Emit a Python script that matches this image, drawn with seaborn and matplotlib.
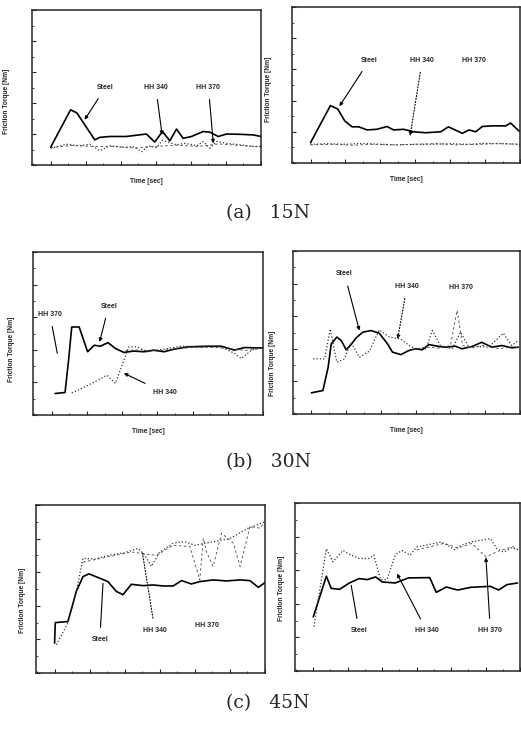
import matplotlib
matplotlib.use("Agg")
import matplotlib.pyplot as plt
import seaborn as sns
from matplotlib.ticker import MultipleLocator

sns.set_style("ticks")
plt.rcParams["font.family"] = ["Liberation Sans", "DejaVu Sans"]

# ---- data (time in tick units, torque in y-tick units) ----
# (a) 15N, left
a1_steel_t = [0, 0.57, 0.75, 1.26, 1.4, 1.69, 2.16, 2.73, 2.97, 3.19, 3.4, 3.59, 3.78, 4.02, 4.35, 4.54, 4.78, 5.02, 5.4, 5.78, 6.0]
a1_steel_y = [0.57, 1.78, 1.68, 0.81, 0.89, 0.92, 0.92, 1.0, 0.74, 1.08, 0.78, 1.16, 0.86, 0.92, 1.08, 1.06, 0.92, 1.0, 0.99, 0.97, 0.92]
a1_hh340_t = [0, 0.45, 0.83, 1.12, 1.4, 1.69, 2.07, 2.36, 2.6, 2.78, 3.02, 3.19, 3.59, 3.83, 4.17, 4.35, 4.54, 4.73, 5.02, 5.4, 5.78, 6.0]
a1_hh340_y = [0.54, 0.67, 0.62, 0.67, 0.46, 0.62, 0.57, 0.59, 0.43, 0.62, 0.56, 0.8, 0.65, 0.7, 0.62, 0.76, 0.54, 0.76, 0.7, 0.65, 0.6, 0.6]
a1_hh370_t = [0, 0.6, 1.2, 1.8, 2.4, 3.0, 3.6, 4.2, 4.8, 5.4, 6.0]
a1_hh370_y = [0.56, 0.63, 0.6, 0.6, 0.55, 0.6, 0.64, 0.6, 0.68, 0.63, 0.58]

# (a) 15N, right
a2_steel_t = [0, 0.57, 0.78, 0.98, 1.19, 1.38, 1.62, 1.9, 2.19, 2.38, 2.67, 2.95, 3.3, 3.73, 3.95, 4.1, 4.35, 4.54, 4.73, 4.92, 5.2, 5.59, 5.73, 5.92, 6.0]
a2_steel_y = [0.65, 1.84, 1.73, 1.35, 1.16, 1.16, 1.06, 1.08, 1.17, 1.06, 1.08, 1.0, 0.97, 1.0, 1.16, 1.08, 0.95, 1.06, 1.0, 1.17, 1.19, 1.19, 1.28, 1.08, 1.0]
a2_hh340_t = [0, 0.5, 1.0, 1.5, 2.0, 2.5, 3.0, 3.5, 4.0, 4.5, 5.0, 5.5, 6.0]
a2_hh340_y = [0.6, 0.62, 0.6, 0.63, 0.6, 0.58, 0.6, 0.6, 0.62, 0.6, 0.63, 0.62, 0.6]
a2_hh370_t = [0, 0.6, 1.2, 1.8, 2.4, 3.0, 3.6, 4.2, 4.8, 5.4, 6.0]
a2_hh370_y = [0.58, 0.6, 0.57, 0.6, 0.58, 0.6, 0.62, 0.58, 0.6, 0.62, 0.6]

# (b) 30N, left
b1_steel_t = [0.1, 0.38, 0.48, 0.57, 0.78, 1.02, 1.21, 1.38, 1.6, 1.81, 2.05, 2.33, 2.62, 2.9, 3.19, 3.48, 3.86, 4.43, 4.81, 5.19, 5.48, 5.76, 6.0]
b1_steel_y = [0.66, 0.69, 1.68, 2.7, 2.7, 1.94, 2.14, 2.11, 2.22, 2.04, 1.92, 1.96, 1.94, 1.99, 1.94, 2.02, 2.09, 2.11, 2.11, 1.99, 2.07, 2.06, 2.06]
b1_hh340_t = [0.57, 0.86, 1.19, 1.57, 1.81, 1.95, 2.19, 2.43, 2.71, 3.0, 3.29, 3.67, 4.24, 4.81, 5.19, 5.38, 5.62, 5.81, 6.0]
b1_hh340_y = [0.68, 0.82, 1.0, 1.22, 0.97, 1.38, 2.09, 2.09, 1.94, 1.99, 2.04, 2.11, 2.09, 2.09, 1.89, 1.73, 1.94, 2.06, 2.06]
b1_hh370_t = [2.1, 2.5, 3.0, 3.5, 4.0, 4.5, 5.0, 5.5, 6.0]
b1_hh370_y = [1.98, 2.0, 1.96, 2.03, 2.07, 2.08, 2.04, 1.98, 2.04]

# (b) 30N, right
b2_steel_t = [0, 0.33, 0.48, 0.57, 0.73, 0.86, 1.0, 1.14, 1.29, 1.48, 1.71, 1.95, 2.19, 2.33, 2.57, 2.81, 3.0, 3.19, 3.38, 3.67, 3.86, 4.14, 4.33, 4.62, 4.9, 5.19, 5.48, 5.76, 5.95]
b2_steel_y = [0.65, 0.72, 1.43, 2.15, 2.36, 2.25, 1.97, 2.13, 2.34, 2.51, 2.56, 2.48, 2.15, 1.9, 1.82, 1.95, 2.0, 1.97, 2.13, 2.07, 2.05, 2.08, 2.0, 2.07, 2.2, 2.05, 2.1, 2.03, 2.05]
b2_hh340_t = [0.05, 0.38, 0.54, 0.73, 0.95, 1.14, 1.38, 1.67, 1.95, 2.24, 2.57, 2.81, 3.0, 3.29, 3.48, 3.71, 4.05, 4.29, 4.52, 4.81, 5.1, 5.52, 5.76, 5.95]
b2_hh340_y = [1.69, 1.69, 2.61, 1.59, 1.69, 2.2, 1.74, 1.93, 2.58, 2.36, 2.3, 2.1, 2.0, 2.0, 2.56, 2.1, 2.0, 2.51, 2.07, 2.07, 2.05, 2.48, 2.1, 2.25]
b2_hh370_t = [2.9, 3.3, 3.7, 4.0, 4.19, 4.35, 4.6, 5.0, 5.4, 5.8, 6.0]
b2_hh370_y = [1.98, 2.05, 2.02, 2.1, 3.18, 2.1, 2.02, 2.12, 2.0, 2.06, 2.02]

# (c) 45N, left
c1_steel_t = [0, 0.02, 0.38, 0.62, 0.81, 0.98, 1.29, 1.52, 1.76, 1.95, 2.19, 2.52, 2.81, 3.1, 3.38, 3.62, 3.9, 4.14, 4.52, 4.9, 5.29, 5.57, 5.81, 6.0]
c1_steel_y = [0.89, 1.5, 1.53, 2.43, 2.87, 2.95, 2.82, 2.72, 2.43, 2.33, 2.64, 2.6, 2.62, 2.59, 2.59, 2.75, 2.65, 2.72, 2.77, 2.74, 2.77, 2.75, 2.55, 2.69]
c1_hh340_t = [0.05, 0.38, 0.62, 0.81, 1.14, 1.57, 2.0, 2.38, 2.57, 2.76, 3.0, 3.38, 3.71, 4.0, 4.5, 5.0, 5.5, 6.0]
c1_hh340_y = [0.84, 1.49, 2.43, 3.42, 3.39, 3.51, 3.58, 3.71, 3.51, 3.17, 3.6, 3.86, 3.91, 3.8, 3.9, 4.0, 4.3, 4.5]
c1_hh370_t = [0.81, 1.5, 2.2, 2.9, 3.38, 3.86, 4.0, 4.14, 4.24, 4.33, 4.52, 4.76, 5.1, 5.29, 5.57, 5.86, 6.0]
c1_hh370_y = [3.3, 3.45, 3.6, 3.5, 3.8, 3.76, 3.27, 2.77, 4.01, 3.61, 3.17, 4.16, 3.86, 3.17, 4.36, 4.31, 4.5]

# (c) 45N, right
c2_steel_t = [0, 0.38, 0.52, 0.76, 1.05, 1.33, 1.57, 1.81, 2.0, 2.38, 2.76, 3.38, 3.57, 3.86, 4.19, 4.57, 5.14, 5.38, 5.62, 5.93]
c2_steel_y = [1.61, 2.82, 2.46, 2.43, 2.62, 2.75, 2.72, 2.8, 2.65, 2.62, 2.77, 2.78, 2.34, 2.5, 2.41, 2.49, 2.52, 2.41, 2.57, 2.62]
c2_hh340_t = [0.02, 0.38, 0.57, 0.86, 1.1, 1.33, 1.62, 1.76, 1.95, 2.14, 2.38, 2.57, 2.81, 3.0, 3.24, 3.71, 3.9, 4.1, 4.29, 4.57, 5.14, 5.33, 5.52, 5.76, 5.93]
c2_hh340_y = [1.32, 3.64, 3.25, 3.59, 3.45, 3.35, 3.35, 3.45, 2.72, 2.72, 3.45, 3.59, 3.45, 3.69, 3.74, 3.84, 3.74, 3.61, 3.74, 3.84, 3.94, 3.64, 3.54, 3.67, 3.61]
c2_hh370_t = [3.0, 3.4, 3.8, 4.2, 4.6, 5.01, 5.4, 5.8, 5.93]
c2_hh370_y = [3.6, 3.7, 3.8, 3.66, 3.8, 3.4, 3.58, 3.7, 3.62]

W, H = 521, 743
fig = plt.figure(figsize=(W / 100, H / 100), dpi=100)


def px_axes(x0, y0, x1, y1):
    return fig.add_axes([x0 / W, 1 - y1 / H, (x1 - x0) / W, (y1 - y0) / H])


def draw_panel(ax, steel, hh340, hh370, ylab_xy, time_label=True):
    sns.lineplot(x=steel[0], y=steel[1], ax=ax, color="black", lw=1.2, sort=False, estimator=None)
    sns.lineplot(x=hh340[0], y=hh340[1], ax=ax, color="#333333", lw=0.9, linestyle=":", sort=False, estimator=None)
    sns.lineplot(x=hh370[0], y=hh370[1], ax=ax, color="#444444", lw=0.6, linestyle=(0, (3, 3)), sort=False, estimator=None)
    ax.set_xlim(-0.53, 6.0)
    ax.set_ylim(0, 5)
    ax.xaxis.set_major_locator(MultipleLocator(1))
    ax.xaxis.set_minor_locator(MultipleLocator(0.5))
    ax.yaxis.set_major_locator(MultipleLocator(1))
    ax.yaxis.set_minor_locator(MultipleLocator(0.5))
    ax.tick_params(which="major", direction="in", length=3, width=0.8,
                   labelbottom=False, labelleft=False)
    ax.tick_params(which="minor", direction="in", length=1.5, width=0.6)
    for s in ax.spines.values():
        s.set_linewidth(1.1)
    ax.set_ylabel("Friction Torque [Nm]", fontsize=4.8, fontweight="bold")
    ax.yaxis.set_label_coords(*ylab_xy)
    if time_label:
        ax.set_xlabel("Time [sec]", fontsize=4.8, fontweight="bold", labelpad=6)
    else:
        ax.set_xlabel("")


def label(ax, text, xy, xytext, ls="-", head=True):
    ax.annotate(text, xy=xy, xytext=xytext, fontsize=5, fontweight="bold",
                ha="center", va="center",
                arrowprops=dict(arrowstyle="-|>" if head else "-", color="black",
                                lw=0.8, linestyle=ls, mutation_scale=5,
                                shrinkA=4, shrinkB=0))


def note(ax, text, xy):
    ax.text(xy[0], xy[1], text, fontsize=5, fontweight="bold", ha="center", va="center")


# (a) 15N
ax = px_axes(32, 10, 261, 165)
draw_panel(ax, (a1_steel_t, a1_steel_y), (a1_hh340_t, a1_hh340_y), (a1_hh370_t, a1_hh370_y), (-0.095, 0.41))
label(ax, "Steel", (0.97, 1.46), (1.57, 2.51))
label(ax, "HH 340", (3.18, 0.97), (3.0, 2.51))
label(ax, "HH 370", (4.64, 0.7), (4.5, 2.51))

ax = px_axes(292, 7, 520, 163)
draw_panel(ax, (a2_steel_t, a2_steel_y), (a2_hh340_t, a2_hh340_y), (a2_hh370_t, a2_hh370_y), (-0.088, 0.47))
label(ax, "Steel", (0.83, 1.82), (1.69, 3.3))
label(ax, "HH 340", (2.85, 0.86), (3.2, 3.3), ls=":")
note(ax, "HH 370", (4.67, 3.3))

# (b) 30N
ax = px_axes(33, 252, 263, 415)
draw_panel(ax, (b1_steel_t, b1_steel_y), (b1_hh340_t, b1_hh340_y), (b1_hh370_t, b1_hh370_y), (-0.08, 0.4))
label(ax, "HH 370", (0.16, 1.89), (-0.05, 3.09), head=False)
label(ax, "Steel", (1.36, 2.24), (1.62, 3.34))
label(ax, "HH 340", (2.05, 1.28), (3.2, 0.69))

ax = px_axes(293, 251, 520, 414)
draw_panel(ax, (b2_steel_t, b2_steel_y), (b2_hh340_t, b2_hh340_y), (b2_hh370_t, b2_hh370_y), (-0.075, 0.31))
label(ax, "Steel", (1.38, 2.56), (0.95, 4.3))
label(ax, "HH 340", (2.48, 2.3), (2.75, 3.92), ls=":")
note(ax, "HH 370", (4.3, 3.89))

# (c) 45N
ax = px_axes(36, 505, 265, 673)
draw_panel(ax, (c1_steel_t, c1_steel_y), (c1_hh340_t, c1_hh340_y), (c1_hh370_t, c1_hh370_y), (-0.045, 0.43), time_label=False)
label(ax, "Steel", (1.38, 2.67), (1.29, 0.99), head=False)
label(ax, "HH 340", (2.5, 3.6), (2.86, 1.27), ls=":", head=False)
note(ax, "HH 370", (4.35, 1.42))

ax = px_axes(295, 503, 520, 671)
draw_panel(ax, (c2_steel_t, c2_steel_y), (c2_hh340_t, c2_hh340_y), (c2_hh370_t, c2_hh370_y), (-0.045, 0.49), time_label=False)
label(ax, "Steel", (1.1, 2.55), (1.33, 1.2), head=False)
label(ax, "HH 340", (2.43, 2.9), (3.29, 1.2))
label(ax, "HH 370", (5.01, 3.38), (5.14, 1.2))

# captions
for txt, ypx in [("(a)   15N", 213), ("(b)   30N", 462), ("(c)   45N", 703)]:
    fig.text(268 / W, 1 - ypx / H, txt, fontsize=13.5, family="DejaVu Serif",
             ha="center", va="center")

fig.savefig("out.png", dpi=100)
